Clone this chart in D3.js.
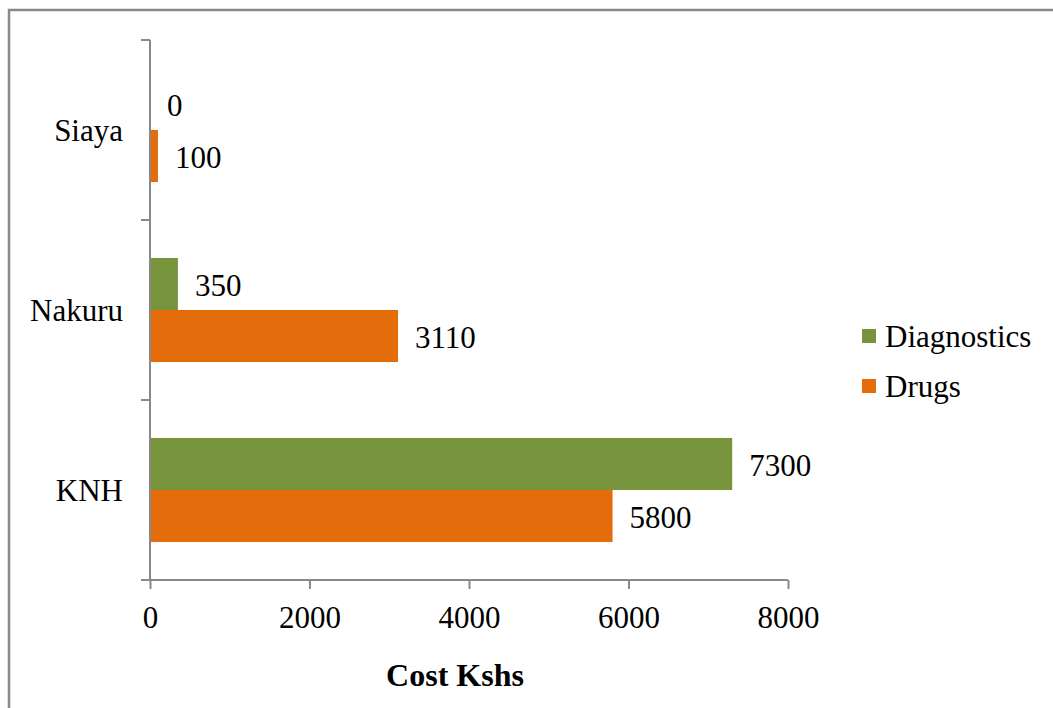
<!DOCTYPE html>
<html><head><meta charset="utf-8">
<script src="https://cdn.jsdelivr.net/npm/d3@7"></script>
<style>body{margin:0;background:#fff}svg{display:block}</style>
</head><body>
<script>
const categories = ["Siaya", "Nakuru", "KNH"];
const seriesNames = ["Diagnostics", "Drugs"];
const diagnostics = [0, 350, 7300];
const drugs = [100, 3110, 5800];
const xTicks = [0, 2000, 4000, 6000, 8000];
const colors = ["#77933C", "#E46C0A"];
const xTitle = "Cost Kshs";

(function () {
const W = 1053, H = 708;
const svg = d3.select("body").append("svg").attr("width", W).attr("height", H);
svg.append("rect").attr("x", 9).attr("y", 10).attr("width", W + 20).attr("height", H + 20)
  .attr("fill", "#fff").attr("stroke", "#898989").attr("stroke-width", 2.5);

const font = "'Liberation Serif','Times New Roman',serif";
const fs = 31;
const pL = 150, pR = 788, pT = 40, pB = 580;
const x = d3.scaleLinear().domain([0, 8000]).range([pL, pR]);
const y = d3.scaleBand().domain(categories).range([pT, pB]).paddingInner(0).paddingOuter(0);
const sub = d3.scaleBand().domain(seriesNames).range([0, y.bandwidth()]).paddingInner(0).paddingOuter(0.73);

const data = categories.map((c, i) => ({c, vals: [diagnostics[i], drugs[i]]}));

const g = svg.append("g");
const groups = g.selectAll("g.cat").data(data).join("g").attr("class", "cat")
  .attr("transform", d => `translate(0,${y(d.c)})`);
groups.selectAll("rect").data(d => d.vals.map((v, k) => ({v, s: seriesNames[k], k})))
  .join("rect")
  .attr("x", x(0)).attr("y", d => sub(d.s))
  .attr("width", d => x(d.v) - x(0)).attr("height", sub.bandwidth())
  .attr("fill", d => colors[d.k]);
groups.selectAll("text").data(d => d.vals.map((v, k) => ({v, s: seriesNames[k], k})))
  .join("text")
  .attr("x", d => x(d.v) + 17).attr("y", d => sub(d.s) + sub.bandwidth() / 2 + 1)
  .attr("dy", "0.35em")
  .attr("font-family", font).attr("font-size", fs).attr("fill", "#000")
  .text(d => d.v);

// y axis
const yAxis = g.append("g");
yAxis.append("line").attr("x1", pL).attr("x2", pL).attr("y1", pT).attr("y2", pB)
  .attr("stroke", "#898989").attr("stroke-width", 2);
const yt = [pT].concat(categories.map(c => y(c) + y.bandwidth()));
yAxis.selectAll("line.t").data(yt).join("line").attr("class", "t")
  .attr("x1", pL - 9).attr("x2", pL).attr("y1", d => d).attr("y2", d => d)
  .attr("stroke", "#898989").attr("stroke-width", 2);
yAxis.selectAll("text").data(categories).join("text")
  .attr("x", 123).attr("y", d => y(d) + y.bandwidth() / 2).attr("dy", "0.35em")
  .attr("text-anchor", "end").attr("font-family", font).attr("font-size", fs).text(d => d);

// x axis
const xAxis = svg.append("g").attr("transform", `translate(0,${pB})`)
  .call(d3.axisBottom(x).tickValues(xTicks).tickSize(9).tickSizeOuter(0).tickFormat(d3.format("d")));
xAxis.select(".domain").attr("stroke", "#898989").attr("stroke-width", 2).attr("d", `M${pL - 9},0H${pR}`);
xAxis.selectAll(".tick line").attr("stroke", "#898989").attr("stroke-width", 2);
xAxis.selectAll(".tick text").attr("font-family", font).attr("font-size", fs).attr("fill", "#000")
  .attr("y", 37).attr("dy", "0.35em");

svg.append("text").attr("x", (pL + pR) / 2 - 14).attr("y", 675).attr("dy", "0.35em")
  .attr("text-anchor", "middle").attr("font-family", font).attr("font-size", 32)
  .attr("font-weight", "bold").text(xTitle);

// legend
const leg = svg.append("g").attr("transform", "translate(862,329)");
const li = leg.selectAll("g").data(seriesNames).join("g").attr("transform", (d, i) => `translate(0,${i * 50})`);
li.append("rect").attr("width", 14).attr("height", 14).attr("fill", (d, i) => colors[i]);
li.append("text").attr("x", 23).attr("y", 7).attr("dy", "0.35em")
  .attr("font-family", font).attr("font-size", fs).text(d => d);
})();
</script>
</body></html>
